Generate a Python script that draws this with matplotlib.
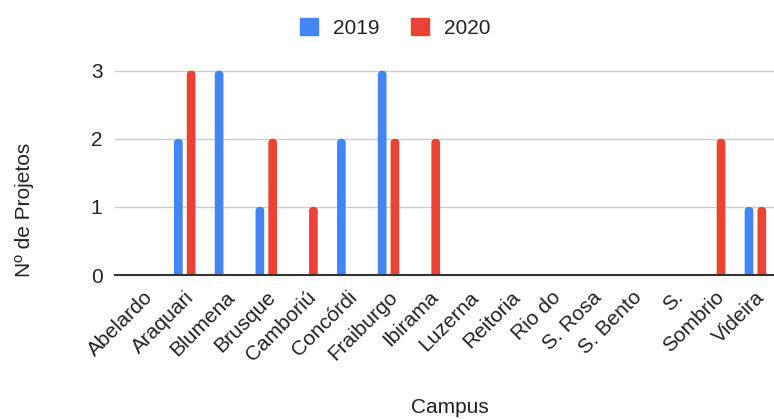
import matplotlib
matplotlib.use("Agg")
import matplotlib.pyplot as plt
import matplotlib.patches as mpatches
import matplotlib.transforms as mtransforms
import numpy as np

plt.rcParams['font.family'] = ['Liberation Sans', 'DejaVu Sans']

campus = ['Abelardo', 'Araquari', 'Blumena', 'Brusque', 'Camboriú', 'Concórdi',
          'Fraiburgo', 'Ibirama', 'Luzerna', 'Reitoria', 'Rio do', 'S. Rosa',
          'S. Bento', 'S.', 'Sombrio', 'Videira']
proj_2019 = [0, 2, 3, 1, 0, 2, 3, 0, 0, 0, 0, 0, 0, 0, 0, 1]
proj_2020 = [0, 3, 0, 2, 1, 0, 2, 2, 0, 0, 0, 0, 0, 0, 2, 1]
series_names = ['2019', '2020']

blue = '#4285F4'
red = '#EA4335'
txt = '#222222'

fig = plt.figure(figsize=(7.74, 4.19), dpi=100)
ax = fig.add_axes([115 / 774, 144 / 419, 659 / 774, 208.4 / 419])

x = np.arange(len(campus))
w = 0.213
off = 0.157
b1 = ax.bar(x - off, proj_2019, w, color=blue, zorder=2)
b2 = ax.bar(x + off, proj_2020, w, color=red, zorder=2)

ax.set_xlim(-0.711, 15.456)
ax.set_ylim(0, 3.06)

# round the bar tops (pixel scale: 40.76 px per category, 68.1 px per unit)
r = 4.2 / 40.76
asp = 40.76 / 68.1
for rect in list(b1) + list(b2):
    h = rect.get_height()
    rect.set_visible(False)
    if h <= 0:
        continue
    x0, y0 = rect.get_xy()
    p = mpatches.FancyBboxPatch((x0, y0 - r * asp), rect.get_width(), h + r * asp,
                                boxstyle=f"round,pad=0,rounding_size={r}",
                                mutation_aspect=asp, fc=rect.get_facecolor(),
                                ec='none', zorder=2)
    ax.add_patch(p)

for v in [1, 2, 3]:
    ax.axhline(v, color='#cccccc', lw=1, zorder=1)
ax.axhline(0, color='#333333', lw=1.5, zorder=3, clip_on=False)

for s in ax.spines.values():
    s.set_visible(False)

ax.set_yticks([0, 1, 2, 3])
ax.tick_params(axis='y', length=0, pad=9, labelsize=15, labelcolor=txt)
ax.set_xticks(x)
ax.set_xticklabels(campus, rotation=45, ha='right', va='center',
                   rotation_mode='anchor', fontsize=15, color=txt)
ax.tick_params(axis='x', length=0, pad=14)
shift = mtransforms.ScaledTranslation(6 / 100, 0, fig.dpi_scale_trans)
for lab in ax.get_xticklabels():
    lab.set_transform(lab.get_transform() + shift)

fig.text(450 / 774, 1 - 407 / 419, 'Campus', ha='center', va='center',
         fontsize=15, color=txt)
fig.text(24 / 774, 1 - 210 / 419, 'Nº de Projetos', ha='center', va='center',
         rotation=90, fontsize=15, color=txt)

handles = [mpatches.Patch(color=blue, label=series_names[0]),
           mpatches.Patch(color=red, label=series_names[1])]
fig.legend(handles=handles, loc='center', bbox_to_anchor=(395 / 774, 1 - 28 / 419),
           ncol=2, frameon=False, fontsize=15, handlelength=0.9, handleheight=0.9,
           handletextpad=0.7, columnspacing=1.5, labelcolor=txt)

fig.savefig('out.png', dpi=100)
